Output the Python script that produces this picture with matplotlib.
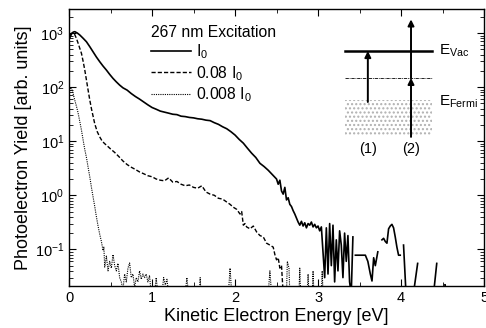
import numpy as np
import matplotlib
matplotlib.use('Agg')
import matplotlib.pyplot as plt
from matplotlib.patches import Rectangle
from matplotlib.ticker import MultipleLocator, LogLocator, NullFormatter

plt.rcParams['font.family'] = ['Liberation Sans', 'DejaVu Sans']
plt.rcParams['mathtext.default'] = 'regular'

nan = np.nan

# full intensity I0
e_i0 = [0.01, 0.03, 0.05, 0.07, 0.10, 0.13, 0.17, 0.21, 0.25, 0.29, 0.33, 0.37, 0.41, 0.45,
        0.49, 0.53, 0.57, 0.61, 0.65, 0.70, 0.75, 0.80, 0.85, 0.90, 0.95, 1.00, 1.05, 1.10,
        1.15, 1.20, 1.25, 1.30, 1.35, 1.40, 1.45, 1.50, 1.55, 1.60, 1.65, 1.70, 1.75, 1.80,
        1.85, 1.90, 1.95, 2.00, 2.05, 2.10, 2.15, 2.20, 2.25, 2.30, 2.35, 2.40, 2.45, 2.50,
        2.52, 2.54, 2.56, 2.58, 2.60, 2.62, 2.64, 2.66, 2.68, 2.70, 2.72, 2.74, 2.76, 2.78,
        2.80, 2.82, 2.84, 2.86, 2.88, 2.90, 2.92, 2.94, 2.96, 2.98, 3.00, 3.02, 3.04,
        3.06, 3.08, 3.10, 3.12, 3.14, 3.16, 3.18, 3.20, 3.22, 3.24, 3.26, 3.28, 3.30, 3.32,
        3.34, 3.36, 3.38, 3.40, 3.42, 3.43,
        3.45, 3.50, 3.57, 3.60, 3.63, 3.65, 3.67, 3.69, 3.72, 3.74,
        3.77, 3.79, 3.81, 3.83, 3.85, 3.87, 3.89, 3.91, 3.93, 3.95, 3.97, 3.99, 4.01,
        4.03, 4.06, 4.10, 4.16, 4.20, 4.30, 4.40, 4.43, 4.48, 4.53, 4.55]
y_i0 = [820, 960, 1040, 1060, 1000, 920, 800, 690, 560, 450, 360, 295, 245, 207,
        172, 145, 125, 109, 97, 88, 76, 67, 60, 53, 47, 42, 39, 36,
        34.5, 33, 31.5, 31, 29, 28.5, 27.5, 27, 26, 25.5, 24.5, 24, 22, 20.5,
        18.5, 17, 15, 13, 10.8, 9.2, 7.4, 6.0, 5.0, 3.9, 3.4, 2.9, 2.4, 2.0,
        1.6, 1.9, 1.2, 1.05, 1.4, 0.82, 0.9, 0.68, 0.62, 0.52, 0.45, 0.38, 0.32, 0.28,
        0.33, 0.27, 0.31, 0.25, 0.30, 0.28, 0.32, 0.26, 0.29, 0.25, 0.27, 0.22, 0.26,
        0.09, 0.03, 0.25, 0.035, 0.30, 0.05, 0.28, 0.025, 0.15, 0.04, 0.22, 0.12, 0.03, 0.20,
        0.06, 0.18, 0.025, 0.015, 0.17, nan,
        0.078, 0.078, 0.078, 0.06, 0.035, 0.026, 0.07, 0.05, 0.09, nan,
        0.15, 0.16, 0.14, 0.13, 0.24, 0.27, 0.29, 0.25, 0.17, 0.11, 0.078, 0.078, nan,
        0.12, 0.015, nan, 0.02, 0.055, nan, 0.02, 0.055, nan, 0.022, 0.015]

# 0.08 I0
e_08 = [0.01, 0.03, 0.05, 0.07, 0.09, 0.11, 0.13, 0.15, 0.17, 0.19, 0.21, 0.23, 0.25, 0.27,
        0.29, 0.31, 0.34, 0.37, 0.40, 0.43, 0.46, 0.50, 0.55, 0.60, 0.65, 0.70, 0.75, 0.80,
        0.85, 0.90, 0.95, 1.00, 1.05, 1.10, 1.15, 1.20, 1.25, 1.30, 1.35, 1.40, 1.45, 1.50,
        1.55, 1.60, 1.65, 1.70, 1.75, 1.80, 1.85, 1.90, 1.94, 1.98, 2.02, 2.06, 2.08, 2.10,
        2.12, 2.14, 2.18, 2.22, 2.26, 2.30, 2.34, 2.38, 2.42, 2.46, 2.48, 2.50, 2.52, 2.54,
        2.56, 2.58]
y_08 = [900, 990, 1010, 930, 790, 645, 520, 420, 300, 207, 135, 88, 58, 40,
        29, 21, 15, 12, 10, 9.0, 8.2, 7.2, 6.2, 5.2, 4.3, 3.7, 3.3, 3.0,
        2.7, 2.5, 2.3, 2.2, 2.0, 1.9, 1.85, 2.1, 1.75, 1.8, 1.6, 1.5, 1.55, 1.4,
        1.35, 1.5, 1.15, 1.05, 1.0, 0.88, 0.85, 0.75, 0.68, 0.60, 0.55, 0.45, 0.50, 0.28,
        0.30, 0.26, 0.24, 0.27, 0.21, 0.18, 0.17, 0.13, 0.12, 0.11, 0.08, 0.064, 0.07, 0.045,
        0.05, 0.015]

# 0.008 I0
e_008 = [0.01, 0.02, 0.03, 0.05, 0.07, 0.09, 0.11, 0.13, 0.15, 0.17, 0.19, 0.21, 0.23, 0.25,
         0.27, 0.29, 0.31, 0.33, 0.35, 0.37, 0.39, 0.41, 0.42, 0.43, 0.45, 0.47, 0.49, 0.51,
         0.53, 0.55, 0.57, 0.59, 0.61, 0.63, 0.65, 0.67, 0.69, 0.71, 0.73, 0.75, 0.77, 0.79,
         0.81, 0.83, 0.85, 0.87, 0.89, 0.91, 0.93, 0.95, 0.97, 0.99, 1.03, 1.05, 1.07, 1.12,
         1.14, 1.16, 1.18, 1.20, 1.40, 1.42, 1.44, 1.57, 1.58, 1.59, 1.92, 1.94, 1.96, 2.40,
         2.42, 2.44, 2.62, 2.63, 2.65, 2.66, 2.77, 2.78, 2.79, 2.87, 2.88, 2.89, 2.93, 2.94,
         2.95, 3.04, 3.05, 3.06, 3.10, 4.52, 4.53, 4.54]
y_008 = [85, 100, 95, 75, 57, 44, 33, 23, 16, 10.5, 7.0, 5.0, 3.3, 2.2,
         1.4, 0.93, 0.62, 0.40, 0.27, 0.19, 0.14, 0.095, 0.11, 0.047, 0.075, 0.04, 0.06, 0.045,
         0.08, 0.05, 0.04, 0.055, 0.03, 0.025, 0.018, 0.035, 0.025, 0.045, 0.056, 0.03, 0.035, 0.02,
         0.03, 0.025, 0.04, 0.028, 0.035, 0.03, 0.035, 0.025, 0.033, 0.015, 0.015, 0.03, 0.015, 0.015,
         0.03, 0.022, 0.028, 0.015, 0.015, 0.03, 0.015, 0.015, 0.03, 0.015, 0.015, 0.045, 0.015, 0.015,
         0.04, 0.015, 0.015, 0.06, 0.045, 0.015, 0.015, 0.045, 0.015, 0.015, 0.035, 0.015, 0.015, 0.04,
         0.015, 0.015, 0.04, 0.015, nan, 0.015, 0.023, 0.015]

labels = ['I$_0$', '0.08 I$_0$', '0.008 I$_0$']

fig = plt.figure(figsize=(4.86, 3.28), dpi=100)
ax = fig.add_axes([0.142, 0.128, 0.854, 0.845])

l1, = ax.plot(e_i0, y_i0, color='black', lw=1.2, ls='-')
l2, = ax.plot(e_08, y_08, color='black', lw=1.0, ls=(0, (3, 1.5)))
l3, = ax.plot(e_008, y_008, color='black', lw=0.8, ls=(0, (1, 1)))

ax.set_yscale('log')
ax.set_xlim(0, 5)
ax.set_ylim(0.021, 2800)
ax.xaxis.set_major_locator(MultipleLocator(1))
ax.xaxis.set_minor_locator(MultipleLocator(0.5))
ax.yaxis.set_major_locator(LogLocator(base=10, numticks=10))
ax.yaxis.set_minor_locator(LogLocator(base=10, subs=np.arange(2, 10), numticks=20))
ax.yaxis.set_minor_formatter(NullFormatter())
ax.tick_params(which='both', direction='in', top=True, right=True, labelsize=10.5)
ax.tick_params(which='major', length=5, width=0.8)
ax.tick_params(which='minor', length=3, width=0.6)
for s in ax.spines.values():
    s.set_linewidth(1.0)

ax.set_xlabel('Kinetic Electron Energy [eV]', fontsize=13, labelpad=2)
ax.set_ylabel('Photoelectron Yield [arb. units]', fontsize=13, labelpad=2)

leg = ax.legend([l1, l2, l3], labels, title='267 nm Excitation', frameon=False,
                loc='upper left', bbox_to_anchor=(0.183, 0.965), fontsize=11.3,
                title_fontsize=11.3, handlelength=2.55, handletextpad=0.3,
                labelspacing=0.17, alignment='left', borderaxespad=0)

# energy level sketch
tr = ax.transAxes
ax.add_patch(Rectangle((0.665, 0.545), 0.21, 0.125, transform=tr, facecolor='none',
                       edgecolor='#b0b0b0', hatch='....', lw=0))
ax.plot([0.665, 0.875], [0.848, 0.848], transform=tr, color='black', lw=1.8)
ax.plot([0.665, 0.875], [0.751, 0.751], transform=tr, color='black', lw=0.6, ls=(0, (4, 1, 1, 1)))
arr = dict(arrowstyle='-|>', color='black', lw=1.4, mutation_scale=9, shrinkA=0, shrinkB=0)
ax.annotate('', xy=(0.720, 0.848), xytext=(0.720, 0.664), xycoords=tr, arrowprops=arr)
ax.annotate('', xy=(0.824, 0.751), xytext=(0.824, 0.538), xycoords=tr, arrowprops=arr)
ax.annotate('', xy=(0.824, 0.962), xytext=(0.824, 0.751), xycoords=tr, arrowprops=arr)
ax.text(0.892, 0.848, 'E$_{Vac}$', transform=tr, fontsize=11, va='center')
ax.text(0.892, 0.664, 'E$_{Fermi}$', transform=tr, fontsize=11, va='center')
ax.text(0.720, 0.495, '(1)', transform=tr, fontsize=10.5, ha='center', va='center')
ax.text(0.824, 0.495, '(2)', transform=tr, fontsize=10.5, ha='center', va='center')

fig.savefig('out.png', dpi=100)
